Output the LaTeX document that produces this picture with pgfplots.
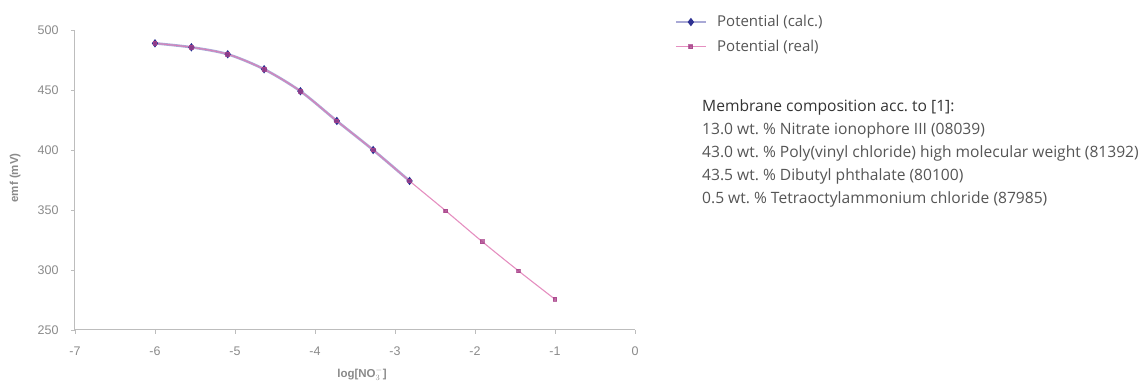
\documentclass[border=0pt]{standalone}
\usepackage{pgfplots}
\pgfplotsset{compat=1.18}
\usepackage{fontspec}
\setmainfont{Open Sans}
\newfontfamily\arialfont{Liberation Sans}
\definecolor{calcline}{HTML}{A9A9D6}
\definecolor{calcmark}{HTML}{2E3192}
\definecolor{realline}{HTML}{E07BB5}
\definecolor{realmark}{HTML}{A8428A}
\definecolor{axisgray}{HTML}{BDBDBD}
\definecolor{tickgray}{HTML}{8A8A8A}
\definecolor{textgray}{HTML}{555555}
\pgfplotstableread{
x y
-6.000 488.9
-5.545 485.6
-5.091 479.8
-4.636 467.3
-4.182 449.0
-3.727 424.2
-3.273 400.0
-2.818 374.2
-2.364 349.2
-1.909 323.6
-1.455 299.2
-1.000 275.6
}\realdata
\pgfplotstableread{
x y
-6.000 488.9
-5.545 485.6
-5.091 479.8
-4.636 467.3
-4.182 449.0
-3.727 424.2
-3.273 400.0
-2.818 374.2
}\calcdata
\frenchspacing
\begin{document}
\begin{tikzpicture}
\path[use as bounding box] (0,0) rectangle (1144pt,385pt);
\begin{axis}[
  scale only axis, width=560pt, height=300pt,
  at={(75pt,55pt)}, anchor=south west,
  xmin=-7, xmax=0, ymin=250, ymax=500,
  xtick={-7,-6,...,0}, ytick={250,300,...,500},
  axis x line*=bottom, axis y line*=left,
  axis line style={axisgray, line width=1pt},
  tick style={axisgray, line width=0.8pt},
  tick align=outside, major tick length=4pt,
  ticklabel style={font=\arialfont\fontsize{12.5}{14}\selectfont, text=tickgray},
  /pgf/number format/assume math mode=true,
  xticklabel style={yshift=-9pt},
  yticklabel style={xshift=-9pt},
  xlabel={log[NO$_3^-$]},
  ylabel={emf (mV)},
  label style={font=\arialfont\bfseries\fontsize{11.5}{13}\selectfont, text=tickgray},
  xlabel style={at={(axis description cs:0.5125,-0.147)}, anchor=center},
  ylabel style={at={(axis description cs:-0.107,0.507)}, anchor=center},
  legend style={at={(1.065,1.062)}, anchor=north west, draw=none, fill=none,
    font=\fontsize{15}{17}\selectfont, text=textgray, row sep=8pt, column sep=8pt},
  legend cell align=left,
  legend image code/.code={
    \draw[#1, mark repeat=2, mark phase=2] plot coordinates {(0pt,0pt) (15pt,0pt) (30pt,0pt)};
  },
]
\addplot[calcline, line width=2.6pt, smooth, mark=diamond*, mark size=2.1pt,
  mark options={fill=calcmark, draw=calcmark}] table[x=x,y=y]{\calcdata};
\addlegendentry{Potential (calc.)}
\addplot[realline, line width=1.1pt, opacity=0.85, smooth, mark=square*, mark size=1.9pt,
  mark options={fill=realmark, draw=realmark, opacity=0.75}] table[x=x,y=y]{\realdata};
\addlegendentry{Potential (real)}
\end{axis}
\node[anchor=north west, align=left, inner sep=0pt, text=textgray,
  font=\fontsize{15.6}{23}\selectfont] at (702pt,286pt)
  {{\color{black!80}Membrane composition acc. to [1]:}\\
   13.0 wt. \% Nitrate ionophore III (08039)\\
   43.0 wt. \% Poly(vinyl chloride) high molecular weight (81392)\\
   43.5 wt. \% Dibutyl phthalate (80100)\\
   0.5 wt. \% Tetraoctylammonium chloride (87985)};
\end{tikzpicture}
\end{document}
